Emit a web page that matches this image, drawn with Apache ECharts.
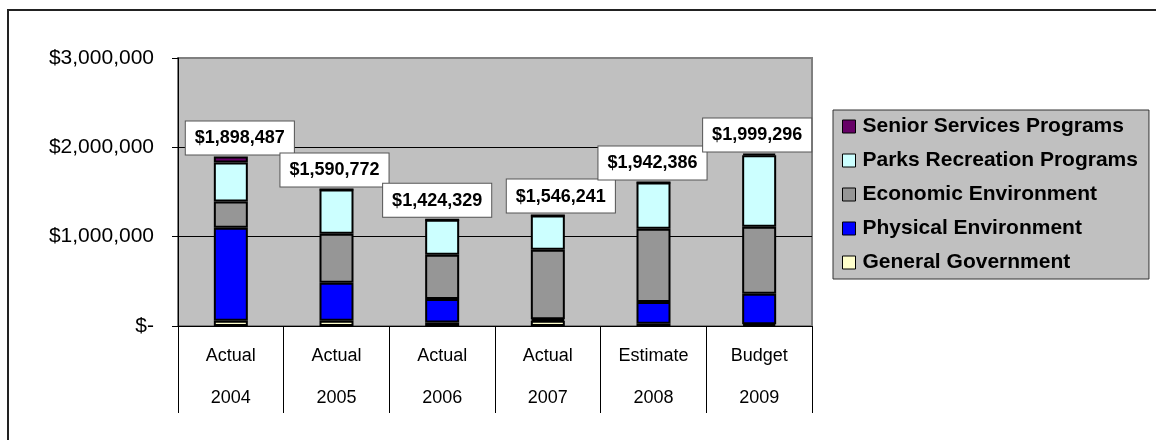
<!DOCTYPE html>
<html>
<head>
<meta charset="utf-8">
<script src="https://cdn.jsdelivr.net/npm/echarts@6/dist/echarts.min.js"></script>
<style>
html,body{margin:0;padding:0;background:#fff;}
#chart{width:1156px;height:440px;}
</style>
</head>
<body>
<div id="chart"></div>
<script>
// ---- data ----
const categories = ['Actual\n2004', 'Actual\n2005', 'Actual\n2006', 'Actual\n2007', 'Estimate\n2008', 'Budget\n2009'];
const generalGovernment   = [60000, 60000, 40000, 60000, 25000, 20000];
const physicalEnvironment = [1041000, 423000, 263000, 15000, 245000, 340000];
const economicEnvironment = [292000, 551000, 495000, 779000, 820000, 752000];
const parksRecreation     = [438000, 494000, 392000, 382000, 517000, 798000];
const seniorServices      = [67000, 0, 0, 0, 0, 21000];
const totals              = [1898487, 1590772, 1424329, 1546241, 1942386, 1999296];
const yTicks              = [0, 1000000, 2000000, 3000000];

// ---- styling ----
const FONT = 'Liberation Sans, Arial, sans-serif';
const labelNudge = [9, -2, -5, 13, -1, -2];

function money(v) {
  return '$' + Math.round(v).toLocaleString('en-US');
}

const chart = echarts.init(document.getElementById('chart'), null, {renderer: 'canvas'});

const barBase = {
  type: 'bar',
  stack: 'total',
  barWidth: 34,
  emphasis: {disabled: true}
};

const option = {
  animation: false,
  textStyle: {fontFamily: FONT},
  graphic: [{
    type: 'rect',
    shape: {x: 8, y: 10, width: 1170, height: 460},
    style: {fill: 'none', stroke: '#222', lineWidth: 2},
    silent: true,
    z: 100
  }],
  grid: {
    left: 178, right: 344, top: 58, bottom: 114,
    show: true, backgroundColor: '#C0C0C0', borderColor: '#808080', borderWidth: 2
  },
  legend: {
    orient: 'vertical',
    left: 833, top: 110,
    data: ['Senior Services Programs', 'Parks Recreation Programs', 'Economic Environment', 'Physical Environment', 'General Government'],
    backgroundColor: '#C0C0C0',
    borderColor: '#333', borderWidth: 1,
    padding: [6, 11, 6, 9],
    itemWidth: 13, itemHeight: 13, itemGap: 13,
    icon: 'rect',
    itemStyle: {borderColor: '#000', borderWidth: 1},
    textStyle: {fontFamily: FONT, fontSize: 21, fontWeight: 'bold', color: '#000', lineHeight: 21, padding: [0, 0, 0, 2]},
    selectedMode: false
  },
  xAxis: {
    type: 'category',
    data: categories,
    axisLine: {show: true, lineStyle: {color: '#000', width: 1}},
    axisTick: {show: true, length: 87, lineStyle: {color: '#000', width: 1}},
    axisLabel: {fontFamily: FONT, fontSize: 18, color: '#000', lineHeight: 42, margin: 9, interval: 0}
  },
  yAxis: {
    type: 'value',
    min: yTicks[0], max: yTicks[yTicks.length - 1], interval: yTicks[1] - yTicks[0],
    axisLine: {show: true, lineStyle: {color: '#000', width: 1}},
    axisTick: {show: true, length: 6, lineStyle: {color: '#000'}},
    splitLine: {show: true, lineStyle: {color: ['#000', '#000', '#000', '#808080'], width: 1}},
    axisLabel: {
      fontFamily: FONT, fontSize: 21, color: '#000', margin: 24,
      formatter: v => v === 0 ? '$-' : money(v)
    }
  },
  series: [
    Object.assign({}, barBase, {name: 'General Government', data: generalGovernment, itemStyle: {color: '#FFFFCC', borderColor: '#000', borderWidth: 2}}),
    Object.assign({}, barBase, {name: 'Physical Environment', data: physicalEnvironment, itemStyle: {color: '#0000FF', borderColor: '#000', borderWidth: 2}}),
    Object.assign({}, barBase, {name: 'Economic Environment', data: economicEnvironment, itemStyle: {color: '#969696', borderColor: '#000', borderWidth: 2}}),
    Object.assign({}, barBase, {name: 'Parks Recreation Programs', data: parksRecreation, itemStyle: {color: '#CCFFFF', borderColor: '#000', borderWidth: 2}}),
    Object.assign({}, barBase, {
      name: 'Senior Services Programs',
      data: seniorServices.map((v, i) => ({value: v, label: {offset: [labelNudge[i], 0]}})),
      itemStyle: {color: '#660066', borderColor: '#000', borderWidth: 2},
      label: {
        show: true, position: 'top', distance: 2,
        formatter: p => money(totals[p.dataIndex]),
        fontFamily: FONT, fontSize: 18, fontWeight: 'bold', color: '#000',
        backgroundColor: '#fff', borderColor: '#555', borderWidth: 1,
        padding: [8, 9, 7, 9], lineHeight: 18
      },
      z: 5
    })
  ]
};

chart.setOption(option);
</script>
</body>
</html>
